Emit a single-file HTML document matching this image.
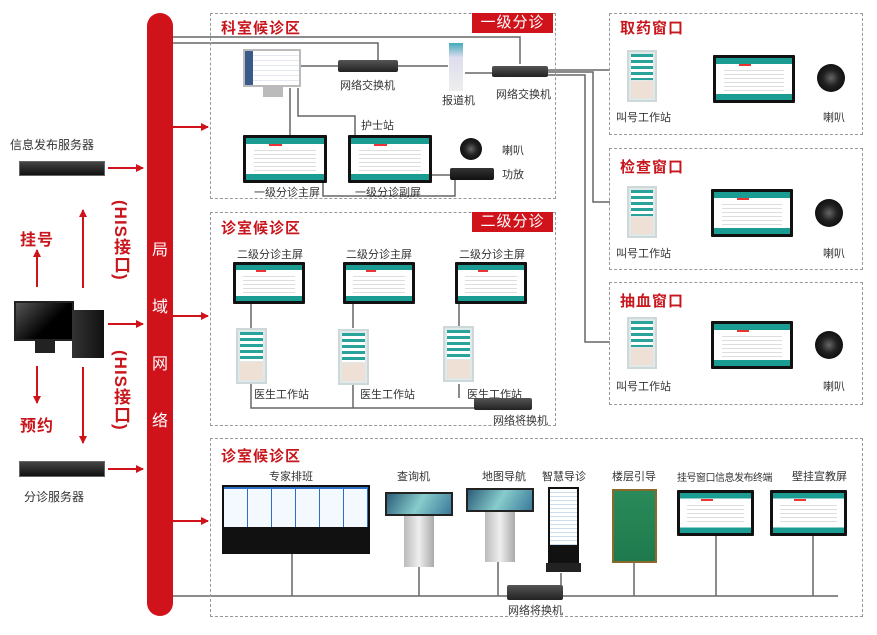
<!DOCTYPE html>
<html><head><meta charset="utf-8">
<style>
*{margin:0;padding:0;box-sizing:border-box}
body{width:877px;height:635px;background:#fff;position:relative;overflow:hidden;font-family:"Liberation Sans","Noto Sans CJK SC",sans-serif;color:#333}
.a{position:absolute}
.t{position:absolute;font-size:11px;color:#333;white-space:nowrap}
.h{position:absolute;font-size:15px;font-weight:bold;color:#c8161d;letter-spacing:1px;white-space:nowrap}
.box{position:absolute;border:1px dashed #999}
.badge{position:absolute;background:#d0121b;color:#fff;font-size:15px;text-align:center;line-height:20px;letter-spacing:1px}
.mon{position:absolute;background:#111;padding:3px;border-radius:1px}
.mon i{display:block;width:100%;height:100%;background:linear-gradient(#1a9c93 0,#1a9c93 14%,#fff 14%,#fff 86%,#1a9c93 86%);position:relative}
.mon i:before{content:"";position:absolute;left:10%;right:10%;top:22%;bottom:20%;background:repeating-linear-gradient(#fff 0,#fff 3px,#ddd 3px,#ddd 4px)}
.mon i:after{content:"";position:absolute;left:30%;width:16%;top:14%;height:6%;background:#e33}
.tab{position:absolute;background:#dfe9ea;border:2px solid #cfd8d8}
.tab:before{content:"";position:absolute;left:2px;right:2px;top:2px;height:55%;background:repeating-linear-gradient(#2aa39a 0,#2aa39a 3px,#fff 3px,#fff 6px)}
.tab:after{content:"";position:absolute;left:2px;right:2px;bottom:2px;height:35%;background:#efe0d6}
.sw{position:absolute;background:linear-gradient(#555,#222);border-radius:2px}
.spk{position:absolute;border-radius:50%;background:radial-gradient(circle,#666 0,#222 40%,#111 70%,#444 100%)}
.srv{position:absolute;background:linear-gradient(#444,#111);border:1px solid #666}
.vt{position:absolute;writing-mode:vertical-rl;font-size:19px;font-weight:bold;color:#c8161d;letter-spacing:1px}
</style></head><body>

<svg class="a" style="left:0;top:0" width="877" height="635">
<defs><marker id="ar" markerWidth="8" markerHeight="8" refX="7" refY="4" orient="auto" markerUnits="userSpaceOnUse"><path d="M0,0 L8,4 L0,8 Z" fill="#d0121b"/></marker></defs>
<g stroke="#d0121b" stroke-width="2" fill="none" marker-end="url(#ar)">
<line x1="108" y1="168" x2="143" y2="168"/>
<line x1="108" y1="324" x2="143" y2="324"/>
<line x1="108" y1="469" x2="143" y2="469"/>
<line x1="173" y1="127" x2="208" y2="127"/>
<line x1="173" y1="316" x2="208" y2="316"/>
<line x1="173" y1="521" x2="208" y2="521"/>
<line x1="37" y1="287" x2="37" y2="250"/>
<line x1="37" y1="366" x2="37" y2="403"/>
<line x1="83" y1="288" x2="83" y2="210"/>
<line x1="83" y1="367" x2="83" y2="443"/>
</g>
<g stroke="#666" stroke-width="1.5" fill="none">
<polyline points="172,37 520,37 520,64"/>
<polyline points="172,43 378,43 378,60"/>
<line x1="300" y1="66" x2="338" y2="66"/>
<line x1="398" y1="66" x2="448" y2="66"/>
<line x1="465" y1="73" x2="492" y2="73"/>
<polyline points="548,70 610,70"/>
<polyline points="548,72 593,72 593,202 610,202"/>
<polyline points="548,75 585,75 585,342 610,342"/>
<line x1="290" y1="88" x2="290" y2="135"/>
<polyline points="298,88 298,116 355,116 355,135"/>
<polyline points="323,180 323,196 455,196 455,180"/>
<line x1="432" y1="175" x2="450" y2="175"/>
<line x1="251" y1="302" x2="251" y2="328"/>
<line x1="353" y1="302" x2="353" y2="328"/>
<line x1="459" y1="302" x2="459" y2="326"/>
<polyline points="251,383 251,408 480,408"/>
<line x1="353" y1="385" x2="353" y2="408"/>
<line x1="459" y1="384" x2="459" y2="398"/>
<line x1="172" y1="596" x2="838" y2="596"/>
<line x1="292" y1="553" x2="292" y2="596"/>
<line x1="419" y1="567" x2="419" y2="596"/>
<line x1="498" y1="562" x2="498" y2="596"/>
<line x1="561" y1="573" x2="561" y2="596"/>
<line x1="634" y1="563" x2="634" y2="596"/>
<line x1="716" y1="536" x2="716" y2="596"/>
<line x1="813" y1="536" x2="813" y2="596"/>
</g>
</svg>

<div class="a" style="left:147px;top:13px;width:26px;height:603px;background:#d0121b;border-radius:13px"></div>
<div class="a" style="left:150px;top:222px;width:20px;font-size:16px;color:#fff;text-align:center;line-height:57px">局<br>域<br>网<br>络</div>

<div class="t" style="left:10px;top:136px;font-size:12px">信息发布服务器</div>
<div class="srv" style="left:19px;top:161px;width:86px;height:15px"></div>
<div class="h" style="left:20px;top:226px;font-size:16px">挂号</div>
<div class="h" style="left:20px;top:412px;font-size:16px">预约</div>
<div class="a" style="left:14px;top:301px;width:60px;height:40px;background:linear-gradient(135deg,#555,#000 60%);border:2px solid #222"></div>
<div class="a" style="left:35px;top:341px;width:20px;height:12px;background:#222"></div>
<div class="a" style="left:72px;top:310px;width:32px;height:48px;background:linear-gradient(90deg,#333,#111)"></div>
<div class="vt" style="left:108px;top:200px;font-size:17px">(HIS接口)</div>
<div class="vt" style="left:108px;top:350px;font-size:17px">(HIS接口)</div>
<div class="srv" style="left:19px;top:461px;width:86px;height:16px"></div>
<div class="t" style="left:24px;top:488px;font-size:12px">分诊服务器</div>

<div class="box" style="left:210px;top:13px;width:346px;height:186px"></div>
<div class="h" style="left:221px;top:17px">科室候诊区</div>
<div class="badge" style="left:472px;top:13px;width:81px">一级分诊</div>
<div class="a" style="left:243px;top:49px;width:58px;height:38px;background:#ddd;border:2px solid #bbb"></div>
<div class="a" style="left:245px;top:51px;width:54px;height:34px;background:repeating-linear-gradient(#fff 0,#fff 4px,#e4e8f0 4px,#e4e8f0 5px);border-left:8px solid #3a5a8a"></div>
<div class="a" style="left:263px;top:87px;width:20px;height:10px;background:#bbb"></div>
<div class="sw" style="left:338px;top:60px;width:60px;height:12px"></div>
<div class="t" style="left:340px;top:77px">网络交换机</div>
<div class="a" style="left:449px;top:43px;width:14px;height:48px;background:linear-gradient(#4ab,#dde 30%,#eee)"></div>
<div class="t" style="left:442px;top:92px">报道机</div>
<div class="sw" style="left:492px;top:66px;width:56px;height:11px"></div>
<div class="t" style="left:496px;top:86px">网络交换机</div>
<div class="t" style="left:361px;top:117px">护士站</div>
<div class="mon" style="left:243px;top:135px;width:84px;height:48px"><i></i></div>
<div class="mon" style="left:348px;top:135px;width:84px;height:48px"><i></i></div>
<div class="t" style="left:254px;top:184px">一级分诊主屏</div>
<div class="t" style="left:355px;top:184px">一级分诊副屏</div>
<div class="spk" style="left:460px;top:138px;width:22px;height:22px"></div>
<div class="t" style="left:502px;top:142px">喇叭</div>
<div class="sw" style="left:450px;top:168px;width:44px;height:12px;background:linear-gradient(#333,#111)"></div>
<div class="t" style="left:502px;top:166px">功放</div>

<div class="box" style="left:210px;top:212px;width:346px;height:214px"></div>
<div class="h" style="left:221px;top:217px">诊室候诊区</div>
<div class="badge" style="left:472px;top:212px;width:81px">二级分诊</div>
<div class="t" style="left:237px;top:246px">二级分诊主屏</div>
<div class="t" style="left:346px;top:246px">二级分诊主屏</div>
<div class="t" style="left:459px;top:246px">二级分诊主屏</div>
<div class="mon" style="left:233px;top:262px;width:72px;height:42px"><i></i></div>
<div class="mon" style="left:343px;top:262px;width:72px;height:42px"><i></i></div>
<div class="mon" style="left:455px;top:262px;width:72px;height:42px"><i></i></div>
<div class="tab" style="left:236px;top:328px;width:31px;height:56px"></div>
<div class="tab" style="left:338px;top:329px;width:31px;height:56px"></div>
<div class="tab" style="left:443px;top:326px;width:31px;height:56px"></div>
<div class="t" style="left:254px;top:386px">医生工作站</div>
<div class="t" style="left:360px;top:386px">医生工作站</div>
<div class="t" style="left:467px;top:386px">医生工作站</div>
<div class="sw" style="left:474px;top:398px;width:58px;height:12px"></div>
<div class="t" style="left:493px;top:412px">网络将换机</div>

<div class="box" style="left:609px;top:13px;width:254px;height:122px"></div>
<div class="h" style="left:620px;top:17px">取药窗口</div>
<div class="tab" style="left:627px;top:50px;width:30px;height:52px"></div>
<div class="mon" style="left:713px;top:55px;width:82px;height:48px"><i></i></div>
<div class="spk" style="left:817px;top:64px;width:28px;height:28px"></div>
<div class="t" style="left:616px;top:109px">叫号工作站</div>
<div class="t" style="left:823px;top:109px">喇叭</div>

<div class="box" style="left:609px;top:148px;width:254px;height:122px"></div>
<div class="h" style="left:620px;top:156px">检查窗口</div>
<div class="tab" style="left:627px;top:186px;width:30px;height:52px"></div>
<div class="mon" style="left:711px;top:189px;width:82px;height:48px"><i></i></div>
<div class="spk" style="left:815px;top:199px;width:28px;height:28px"></div>
<div class="t" style="left:616px;top:245px">叫号工作站</div>
<div class="t" style="left:823px;top:245px">喇叭</div>

<div class="box" style="left:609px;top:282px;width:254px;height:123px"></div>
<div class="h" style="left:620px;top:290px">抽血窗口</div>
<div class="tab" style="left:627px;top:317px;width:30px;height:52px"></div>
<div class="mon" style="left:711px;top:321px;width:82px;height:48px"><i></i></div>
<div class="spk" style="left:815px;top:331px;width:28px;height:28px"></div>
<div class="t" style="left:616px;top:378px">叫号工作站</div>
<div class="t" style="left:823px;top:378px">喇叭</div>

<div class="box" style="left:210px;top:438px;width:653px;height:179px"></div>
<div class="h" style="left:221px;top:445px">诊室候诊区</div>
<div class="t" style="left:269px;top:468px">专家排班</div>
<div class="t" style="left:397px;top:468px">查询机</div>
<div class="t" style="left:482px;top:468px">地图导航</div>
<div class="t" style="left:542px;top:468px">智慧导诊</div>
<div class="t" style="left:612px;top:468px">楼层引导</div>
<div class="t" style="left:677px;top:469px;font-size:10px;letter-spacing:-0.5px">挂号窗口信息发布终端</div>
<div class="t" style="left:792px;top:468px">壁挂宣教屏</div>

<div class="a" style="left:222px;top:485px;width:148px;height:69px;background:#111"></div>
<div class="a" style="left:224px;top:487px;width:144px;height:40px;background:repeating-linear-gradient(90deg,#f4f8ff 0,#f4f8ff 23px,#2d6fc4 23px,#2d6fc4 24px);border-top:2px solid #2d6fc4"></div>
<div class="a" style="left:385px;top:492px;width:68px;height:24px;background:linear-gradient(120deg,#2b5e7a,#8cc 50%,#3a7a9a);border:2px solid #222"></div>
<div class="a" style="left:404px;top:516px;width:30px;height:51px;background:linear-gradient(90deg,#bbb,#eee,#aaa)"></div>
<div class="a" style="left:466px;top:488px;width:68px;height:24px;background:linear-gradient(120deg,#2b5e7a,#8cc 50%,#3a7a9a);border:2px solid #222"></div>
<div class="a" style="left:485px;top:512px;width:30px;height:50px;background:linear-gradient(90deg,#bbb,#eee,#aaa)"></div>
<div class="a" style="left:548px;top:487px;width:31px;height:76px;background:repeating-linear-gradient(#fff 0,#fff 3px,#cde 3px,#cde 4px);border:2px solid #111;border-bottom:18px solid #111"></div>
<div class="a" style="left:546px;top:563px;width:35px;height:9px;background:#222"></div>
<div class="a" style="left:612px;top:489px;width:45px;height:74px;background:linear-gradient(#2a8a5a,#1e7a4c);border:2px solid #8a6a2a"></div>
<div class="mon" style="left:677px;top:490px;width:77px;height:46px"><i></i></div>
<div class="mon" style="left:770px;top:490px;width:77px;height:46px"><i></i></div>
<div class="sw" style="left:507px;top:585px;width:56px;height:15px"></div>
<div class="t" style="left:508px;top:602px">网络将换机</div>
</body></html>
